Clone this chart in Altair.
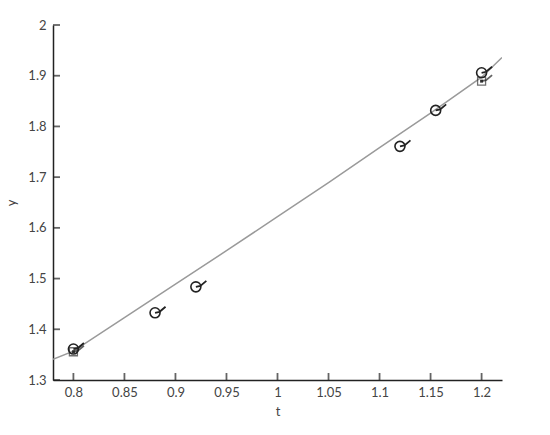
import altair as alt
import pandas as pd

# curve
curve_t = [0.78, 0.80, 0.85, 0.90, 0.95, 1.00, 1.05, 1.10, 1.15, 1.20, 1.22]
curve_y = [1.341, 1.357, 1.423, 1.489, 1.555, 1.622, 1.689, 1.758, 1.826, 1.897, 1.936]

# circle markers
circle_t = [0.8, 0.88, 0.92, 1.12, 1.155, 1.2]
circle_y = [1.361, 1.4325, 1.4837, 1.7607, 1.8316, 1.9058]

# square markers
square_t = [0.8, 1.2]
square_y = [1.3557, 1.8893]

x_ticks = [0.8, 0.85, 0.9, 0.95, 1.0, 1.05, 1.1, 1.15, 1.2]
y_ticks = [1.3, 1.4, 1.5, 1.6, 1.7, 1.8, 1.9, 2.0]

W, H = 449, 355
FONT = "Lato"
INK = "#222222"

curve_df = pd.DataFrame({"t": curve_t, "y": curve_y})
circ_df = pd.DataFrame({"t": circle_t, "y": circle_y})
sq_df = pd.DataFrame({"t": square_t, "y": square_y})
xt_df = pd.DataFrame({"t": x_ticks})
yt_df = pd.DataFrame({"y": y_ticks})

xs = alt.Scale(domain=[0.78, 1.22], nice=False, zero=False)
ys = alt.Scale(domain=[1.3, 2.0], nice=False, zero=False)

main_x = alt.Axis(orient="bottom", values=x_ticks, format="~g", ticks=False, grid=False,
                  title="t", labelPadding=6, titlePadding=6,
                  domainColor=INK, domainWidth=1.5)
main_y = alt.Axis(orient="left", values=y_ticks, format="~g", ticks=False, grid=False,
                  title="y", labelPadding=7, titlePadding=9,
                  domainColor=INK, domainWidth=1.5)

pin_path = "M0,0 L0.9,-0.2 L2.1,-1.2"


def enc(ch):
    return ch.encode(x=alt.X("t:Q", scale=xs), y=alt.Y("y:Q", scale=ys))


curve = alt.Chart(curve_df).mark_line(color="#9a9a9a", strokeWidth=1.5, clip=True).encode(
    x=alt.X("t:Q", scale=xs, axis=main_x),
    y=alt.Y("y:Q", scale=ys, axis=main_y),
)

xticks_layer = alt.Chart(xt_df).mark_tick(color=INK, thickness=1.8, size=7).encode(
    x=alt.X("t:Q", scale=xs), y=alt.value(H - 3.5))
yticks_layer = alt.Chart(yt_df).mark_tick(color=INK, thickness=1.8, size=7).encode(
    y=alt.Y("y:Q", scale=ys), x=alt.value(3.5))

squares = enc(alt.Chart(sq_df).mark_point(shape="square", size=64, filled=False,
                                          stroke="#333333", strokeWidth=1.3))
sq_inner = enc(alt.Chart(sq_df).mark_point(shape="square", size=9, filled=True,
                                           color="#333333", opacity=1))
sq_pins = enc(alt.Chart(sq_df).mark_point(shape=pin_path, size=100, filled=False,
                                          stroke=INK, strokeWidth=1.8))
circles = enc(alt.Chart(circ_df).mark_point(shape="circle", size=100, filled=False,
                                            stroke=INK, strokeWidth=1.6, opacity=1))
circ_pins = enc(alt.Chart(circ_df).mark_point(shape=pin_path, size=100, filled=False,
                                              stroke=INK, strokeWidth=1.8, opacity=1))

chart = alt.layer(curve, xticks_layer, yticks_layer, squares, sq_inner, sq_pins,
                  circles, circ_pins).properties(
    width=W, height=H,
    autosize=alt.AutoSizeParams(type="none"),
    padding={"left": 45, "top": 17, "right": 30, "bottom": 40},
).configure_view(stroke=None).configure_axis(
    labelFont=FONT, labelFontSize=13, labelColor="#444444",
    titleFont=FONT, titleFontSize=13, titleColor="#444444", titleFontWeight="normal",
)

chart.save("out.html", embed_options={"renderer": "svg", "actions": False})
